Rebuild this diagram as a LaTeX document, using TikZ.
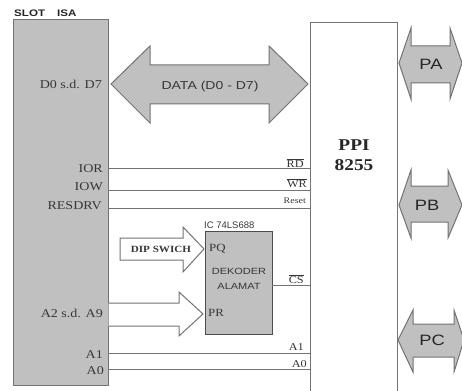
\documentclass[tikz,border=0pt]{standalone}
\usepackage{fontspec}
\setmainfont{Liberation Serif}
\setsansfont{Liberation Sans}
\newfontfamily\wideserif[FakeStretch=1.17]{Liberation Serif}
\newfontfamily\widesans[FakeStretch=1.22]{Liberation Sans}
\definecolor{boxgray}{RGB}{192,192,192}
\definecolor{edgegray}{RGB}{115,115,115}
\definecolor{inkgray}{RGB}{55,55,55}
\tikzset{
  x=1pt,y=-1pt,
  blockbox/.style={draw=edgegray,line width=1pt,fill=boxgray},
  bus/.style={draw=edgegray,line width=1pt,fill=boxgray,line join=miter},
  openbus/.style={draw=edgegray,line width=1pt,fill=white},
  wire/.style={draw=edgegray,line width=1pt},
  sig/.style={font=\wideserif\fontsize{12}{12}\selectfont,text=inkgray,inner sep=0pt,anchor=east},
  small/.style={font=\wideserif\fontsize{10.5}{10.5}\selectfont,text=inkgray,inner sep=0pt,anchor=east},
  sanslbl/.style={font=\widesans\fontsize{9}{15}\selectfont,text=inkgray,inner sep=0pt},
  portlbl/.style={font=\widesans\fontsize{15}{15}\selectfont,text=black!85,inner sep=0pt}
}
\begin{document}
\begin{tikzpicture}
\useasboundingbox (0,0) rectangle (462,390);
\clip (0,0) rectangle (462,390);
\fill[white] (0,0) rectangle (462,390);
% main blocks
\draw[blockbox] (13.5,20) rectangle (108.5,385);
\draw[draw=edgegray,line width=1pt,fill=white] (310.5,23) rectangle (397,395);
\draw[blockbox,draw=black!70] (205,231) rectangle (272,334);
% coordinates for connectors
\coordinate (isaIOR) at (108.5,168);
\coordinate (ppiIOR) at (310.5,168);
\coordinate (isaIOW) at (108.5,190);
\coordinate (ppiIOW) at (310.5,190);
\coordinate (isaRES) at (108.5,208);
\coordinate (ppiRES) at (310.5,208);
\coordinate (isaA1) at (108.5,353);
\coordinate (ppiA1) at (310.5,353);
\coordinate (isaA0) at (108.5,369);
\coordinate (ppiA0) at (310.5,369);
\coordinate (decCS) at (272,285);
\coordinate (ppiCS) at (310.5,285);
\draw[wire] (isaIOR) -- (ppiIOR);
\draw[wire] (isaIOW) -- (ppiIOW);
\draw[wire] (isaRES) -- (ppiRES);
\draw[wire] (isaA1) -- (ppiA1);
\draw[wire] (isaA0) -- (ppiA0);
\draw[wire] (decCS) -- (ppiCS);
% bus arrows
\draw[bus] (111,84) -- (150,46) -- (150,65) -- (269,65) -- (269,46) -- (308,84) -- (269,123) -- (269,104) -- (150,104) -- (150,123) -- cycle;
\draw[bus] (399,63) -- (411,28) -- (411,46) -- (450,46) -- (450,28) -- (462,63) -- (450,99) -- (450,83) -- (411,83) -- (411,99) -- cycle;
\draw[bus] (399,205) -- (411,170) -- (411,186) -- (448,186) -- (448,170) -- (462,205) -- (448,238) -- (448,222) -- (411,222) -- (411,238) -- cycle;
\draw[bus] (398,340) -- (413,310) -- (413,324) -- (454,324) -- (454,310) -- (464,340) -- (454,372) -- (454,357) -- (413,357) -- (413,372) -- cycle;
\draw[openbus] (120,238) -- (183,238) -- (183,227) -- (204,249) -- (183,272) -- (183,260) -- (120,260) -- cycle;
\draw[openbus] (108.5,303) -- (179,303) -- (179,292) -- (203,314) -- (179,336) -- (179,326) -- (108.5,326);
% labels
\node[font=\widesans\bfseries\fontsize{9.5}{10}\selectfont,text=black!85,inner sep=0pt,anchor=west] (slot) at (14,13.5) {SLOT\hspace{12pt}ISA};
\node[sig] (d0) at (102,84.5) {D0 s.d. D7};
\node[sig] (ior) at (103,169) {IOR};
\node[sig] (iow) at (103,187) {IOW};
\node[sig] (resdrv) at (102,206) {RESDRV};
\node[sig] (a29) at (103,313) {A2 s.d. A9};
\node[sig] (a1) at (103,355) {A1};
\node[sig] (a0) at (104,371) {A0};
\node[font=\widesans\fontsize{11.5}{12}\selectfont,text=inkgray,inner sep=0pt] (data) at (210,87) {DATA (D0 - D7)};
\node[font=\wideserif\bfseries\fontsize{16.5}{20}\selectfont,align=center,text=black!85,inner sep=0pt] (ppi) at (354,155) {PPI\\8255};
\node[portlbl] (pa) at (431,64) {PA};
\node[portlbl] (pb) at (427,205) {PB};
\node[portlbl] (pc) at (432,340) {PC};
\node[small] (rd) at (304,163) {$\overline{\mbox{RD}}$};
\node[small] (wr) at (307,183) {$\overline{\mbox{WR}}$};
\node[small,font=\wideserif\fontsize{8.5}{9}\selectfont] (reset) at (306,201) {Reset};
\node[small] (cs) at (304,279) {$\overline{\mbox{CS}}$};
\node[small] (ra1) at (304,347) {A1};
\node[small] (ra0) at (307,364) {A0};
\node[sanslbl,anchor=west,font=\sffamily\fontsize{9.5}{10}\selectfont] (ic) at (204,225) {IC 74LS688};
\node[sig,anchor=west,font=\wideserif\fontsize{11}{11}\selectfont] (pq) at (209,249) {PQ};
\node[sig,anchor=west,font=\wideserif\fontsize{11}{11}\selectfont] (pr) at (208,313) {PR};
\node[sanslbl,align=center] (dek) at (239,278.5) {DEKODER\\ALAMAT};
\node[font=\wideserif\bfseries\fontsize{9.5}{10}\selectfont,text=inkgray,inner sep=0pt] (dip) at (161,249) {DIP SWICH};
\end{tikzpicture}
\end{document}
